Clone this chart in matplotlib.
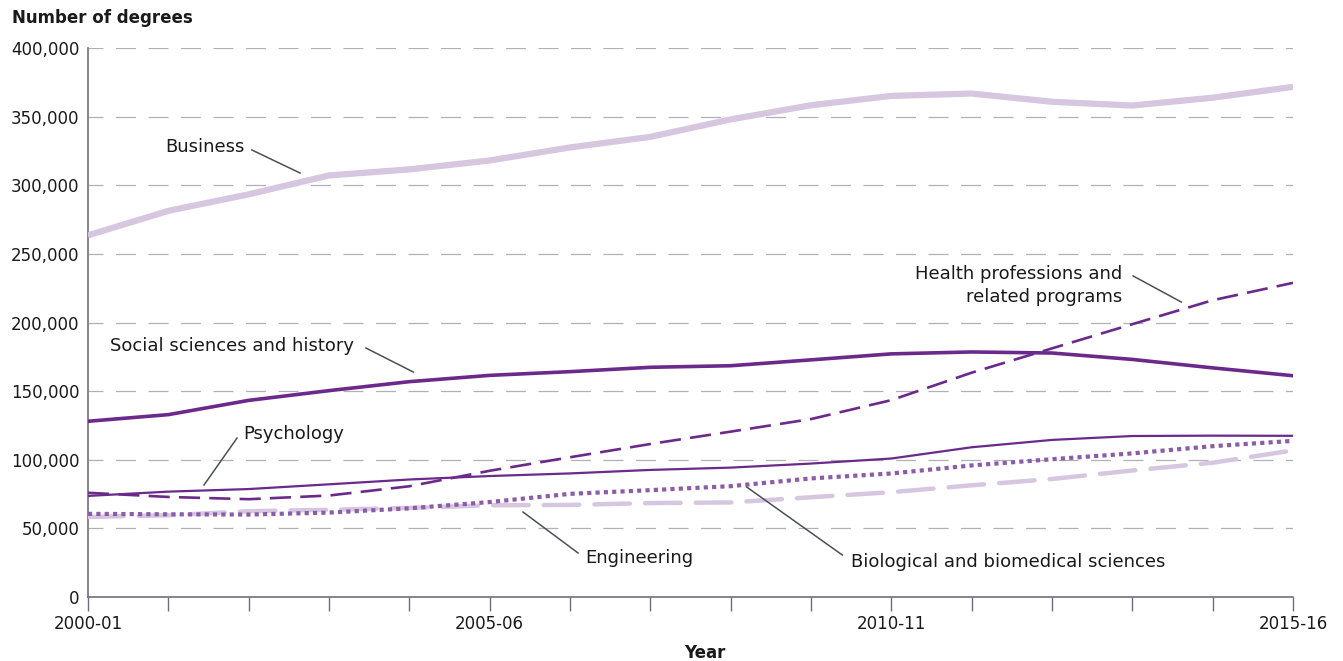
import matplotlib.pyplot as plt
import numpy as np

# Data (number of degrees), 2000-01 through 2015-16
years = ['2000-01', '2001-02', '2002-03', '2003-04', '2004-05', '2005-06', '2006-07', '2007-08',
         '2008-09', '2009-10', '2010-11', '2011-12', '2012-13', '2013-14', '2014-15', '2015-16']
year_labels = ['2000-01', '', '', '', '', '2005-06', '', '', '', '', '2010-11', '', '', '', '', '2015-16']

business = [263515, 281330, 293391, 307149, 311574, 318042, 327531, 335254,
            347985, 358293, 365093, 366815, 360823, 358079, 363799, 371694]
social = [128036, 132874, 143256, 150357, 156892, 161485, 164183, 167363,
          168500, 172780, 177144, 178534, 177767, 173096, 166944, 161230]
health = [75933, 72887, 71261, 73934, 80685, 91973, 101810, 111478,
          120488, 129634, 143430, 163440, 181144, 198770, 216228, 228896]
psychology = [73645, 76775, 78650, 82098, 85614, 88134, 90039, 92587,
              94271, 97216, 100893, 109099, 114446, 117298, 117557, 117440]
biology = [60576, 60256, 60072, 61509, 64611, 69178, 75151, 77854,
           80756, 86400, 90003, 95849, 100397, 104633, 109896, 113749]
engineering = [58315, 59536, 62500, 63558, 64906, 66841, 67092, 68431,
               68911, 72654, 76376, 81371, 85987, 92162, 97852, 106789]

y_ticks = [0, 50000, 100000, 150000, 200000, 250000, 300000, 350000, 400000]

dark = '#6b2a8b'
mid = '#8b5ca8'
light = '#d6c6e0'
axis_col = '#6e6e80'
text_col = '#1a1a1a'
lead_col = '#4a4f5a'

plt.rcParams['font.family'] = 'DejaVu Sans'

fig = plt.figure(figsize=(13.43, 6.61), dpi=100)
ax = fig.add_axes([88 / 1343, 1 - 597 / 661, (1293 - 88) / 1343, (597 - 48) / 661])

x = np.arange(len(years))

ax.plot(x, business, color=light, lw=4.5, solid_capstyle='butt', zorder=3)
ax.plot(x, engineering, color=light, lw=3.2, linestyle=(0, (8, 3.4)), dash_capstyle='round', zorder=3)
ax.plot(x, biology, color=mid, lw=3.0, linestyle=(0, (1, 1)), zorder=4)
ax.plot(x, health, color=dark, lw=1.9, linestyle=(0, (8, 3.5)), zorder=5)
ax.plot(x, psychology, color=dark, lw=1.6, zorder=5)
ax.plot(x, social, color=dark, lw=2.6, zorder=5)

ax.set_xlim(0, len(years) - 1)
ax.set_ylim(0, 400000)
ax.set_xticks(x)
ax.set_xticklabels(year_labels, fontsize=12, color=text_col)
ax.set_yticks(y_ticks)
ax.set_yticklabels(['{:,}'.format(v) for v in y_ticks], fontsize=12, color=text_col)
ax.tick_params(axis='x', length=10, width=1, color=axis_col, pad=3)
ax.tick_params(axis='y', length=0, pad=6)

for v in y_ticks[1:]:
    ax.axhline(v, color='#b0b0ba', lw=0.9, linestyle=(4, (16, 10)), zorder=1)

for s in ['top', 'right']:
    ax.spines[s].set_visible(False)
for s in ['left', 'bottom']:
    ax.spines[s].set_color(axis_col)
    ax.spines[s].set_linewidth(1.2)

fig.text(12 / 1343, 1 - 18 / 661, 'Number of degrees', fontsize=12, fontweight='bold',
         color=text_col, ha='left', va='center')
fig.text(705 / 1343, 1 - 653 / 661, 'Year', fontsize=12, fontweight='bold',
         color=text_col, ha='center', va='center')

# Labels with leader lines
labels = [
    ('Business', 1.46, 327900, 'center', (2.04, 325700), (2.64, 308900)),
    ('Social sciences and history', 0.274, 182900, 'left', (3.46, 181400), (4.05, 163900)),
    ('Psychology', 1.93, 118800, 'left', (1.855, 115800), (1.444, 81600)),
    ('Health professions and\nrelated programs', 12.88, 227000, 'right', (13.01, 233900), (13.61, 214900)),
    ('Engineering', 6.19, 28400, 'left', (5.415, 61900), (6.10, 32100)),
    ('Biological and biomedical sciences', 9.50, 25500, 'left', (8.20, 80100), (9.39, 30600)),
]
for txt, tx, ty, ha, p0, p1 in labels:
    ax.text(tx, ty, txt, fontsize=13, color=text_col, ha=ha, va='center',
            multialignment='right' if ha == 'right' else 'left', linespacing=1.3, zorder=6)
    ax.plot([p0[0], p1[0]], [p0[1], p1[1]], color=lead_col, lw=1.1, zorder=6, clip_on=False)

fig.savefig('out.png', dpi=100)
